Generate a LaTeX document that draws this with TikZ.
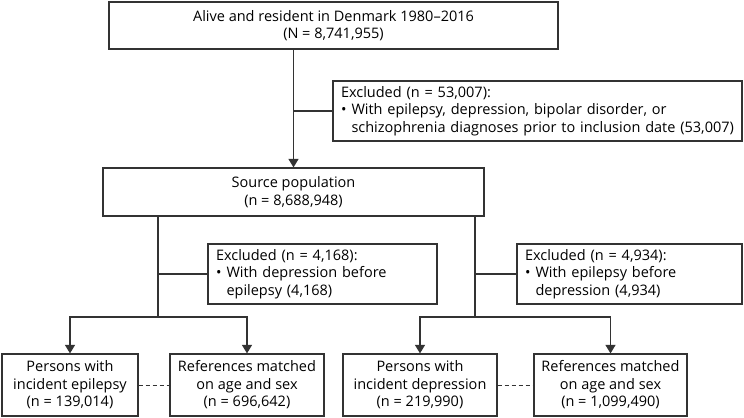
\documentclass[tikz,border=0pt]{standalone}
\usepackage{fontspec}
\setmainfont{Open Sans}
\usetikzlibrary{arrows.meta}
\newcommand{\bul}{\makebox[10.5bp][l]{•}}
\newcommand{\ind}{\hspace*{10.5bp}}
\begin{document}
\begin{tikzpicture}[x=1bp,y=-1bp,
  every node/.style={font=\fontsize{14.5bp}{17.5bp}\selectfont, text=black},
  box/.style={draw=black!80, line width=1.2bp, inner sep=0pt, align=center, minimum height=#1},
  box/.default=48bp,
  exbox/.style={draw=black!80, line width=1.2bp, inner xsep=8bp, inner ysep=0pt, align=left, minimum height=60bp},
  conn/.style={draw=black!80, line width=1.2bp},
  arr/.style={conn, -{Triangle[width=10bp,length=8.5bp]}}]
\useasboundingbox (0,0) rectangle (744,417);
\node[box=47bp, minimum width=449bp] (top) at (333.5,25.5) {Alive and resident in Denmark 1980–2016\\(N = 8,741,955)};
\node[exbox, text width=393bp] (ex1) at (537.5,111) {Excluded (n = 53,007):\\\bul With epilepsy, depression, bipolar disorder, or\\\ind\mbox{schizophrenia diagnoses prior to inclusion date (53,007)}};
\node[box=48bp, minimum width=381bp] (src) at (293.5,192) {Source population\\(n = 8,688,948)};
\node[exbox, text width=213bp] (ex2) at (322.5,274) {Excluded (n = 4,168):\\\bul With depression before\\\ind epilepsy (4,168)};
\node[exbox, text width=209bp] (ex3) at (629.5,274) {Excluded (n = 4,934):\\\bul With epilepsy before\\\ind depression (4,934)};
\node[box=62bp, minimum width=136bp] (b1) at (70,385) {Persons with\\incident epilepsy\\(n = 139,014)};
\node[box=62bp, minimum width=154bp] (b2) at (247,385) {References matched\\on age and sex\\(n = 696,642)};
\node[box=62bp, minimum width=154bp] (b3) at (420,385) {Persons with\\incident depression\\(n = 219,990)};
\node[box=62bp, minimum width=153bp] (b4) at (610.5,385) {References matched\\on age and sex\\(n = 1,099,490)};
\coordinate (sl) at (158,317);
\coordinate (sr) at (475,317);
\draw[arr] (top.south -| src.north) -- (src.north);
\draw[conn] (ex1.west) -- (ex1.west -| src.north);
\draw[conn] (src.south -| sl) -- (sl);
\draw[conn] (src.south -| sr) -- (sr);
\draw[conn] (ex2.west) -- (ex2.west -| sl);
\draw[conn] (ex3.west) -- (ex3.west -| sr);
\draw[arr] (sl) -| (b1.north);
\draw[arr] (sl) -| (b2.north);
\draw[arr] (sr) -| (b3.north);
\draw[arr] (sr) -| (b4.north);
\draw[conn, dash pattern=on 4bp off 3bp, line width=1bp] (b1.east) -- (b2.west);
\draw[conn, dash pattern=on 4bp off 3bp, line width=1bp] (b3.east) -- (b4.west);
\end{tikzpicture}
\end{document}
